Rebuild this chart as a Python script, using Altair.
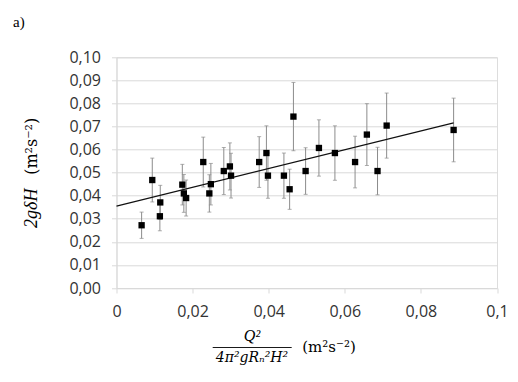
import altair as alt
import pandas as pd

# data
q_vals = [0.0066, 0.0094, 0.0115, 0.0114, 0.0173, 0.0177, 0.0183, 0.0228, 0.0244,
          0.0248, 0.0282, 0.0298, 0.0301, 0.0375, 0.0394, 0.0398, 0.0440, 0.0455,
          0.0465, 0.0497, 0.0532, 0.0574, 0.0627, 0.0658, 0.0686, 0.0710, 0.0886]
h_vals = [0.0272, 0.0468, 0.0371, 0.0311, 0.0448, 0.0410, 0.0390, 0.0546, 0.0410,
          0.0450, 0.0507, 0.0527, 0.0487, 0.0546, 0.0585, 0.0487, 0.0487, 0.0428,
          0.0743, 0.0507, 0.0607, 0.0585, 0.0546, 0.0665, 0.0507, 0.0704, 0.0685]
err_vals = [0.0057, 0.0095, 0.0074, 0.0063, 0.0088, 0.0082, 0.0078, 0.0108, 0.0081,
            0.0090, 0.0102, 0.0102, 0.0097, 0.0110, 0.0118, 0.0098, 0.0098, 0.0087,
            0.0148, 0.0101, 0.0122, 0.0118, 0.0112, 0.0134, 0.0103, 0.0141, 0.0138]
trend_x = [0.0, 0.0886]
trend_intercept = 0.0355
trend_slope = 0.407
x_ticks = [0, 0.02, 0.04, 0.06, 0.08, 0.1]
y_ticks = [0, 0.01, 0.02, 0.03, 0.04, 0.05, 0.06, 0.07, 0.08, 0.09, 0.1]

df = pd.DataFrame({"x": q_vals, "y": h_vals, "e": err_vals})
df["lo"] = df["y"] - df["e"]
df["hi"] = df["y"] + df["e"]
tdf = pd.DataFrame({"x": trend_x})
tdf["y"] = trend_intercept + trend_slope * tdf["x"]

W, H = 380.5, 230.7
GRID = "#d9d9d9"
LBL = "#333333"

xs = alt.Scale(domain=[0, 0.1], nice=False)
ys = alt.Scale(domain=[0, 0.1], nice=False)

xax = alt.Axis(values=x_ticks, grid=False, title=None,
               labelExpr="replace(format(datum.value, '.2~f'), '.', ',')",
               labelFont="Open Sans", labelFontSize=16, labelColor=LBL,
               labelPadding=10, tickSize=5, tickColor=GRID, domainColor=GRID,
               labelFlush=False, labelOverlap=False)
yax = alt.Axis(values=y_ticks, grid=True, gridColor=GRID, title=None,
               labelExpr="replace(format(datum.value, '.2f'), '.', ',')",
               labelFont="Open Sans", labelFontSize=16, labelColor=LBL,
               labelPadding=11, tickSize=5, tickColor=GRID, domainColor=GRID,
               labelOverlap=False, labelFlush=False)

def X(f):
    return alt.X(f, type="quantitative", scale=xs, axis=xax)

def Y(f):
    return alt.Y(f, type="quantitative", scale=ys, axis=yax)

base = alt.Chart(df)
bars = base.mark_rule(color="#8c8c8c", strokeWidth=1).encode(
    x=X("x"), y=Y("lo"), y2="hi:Q")
cap_lo = base.mark_tick(color="#8c8c8c", orient="horizontal", size=4, thickness=1).encode(
    x=X("x"), y=Y("lo"))
cap_hi = base.mark_tick(color="#8c8c8c", orient="horizontal", size=4, thickness=1).encode(
    x=X("x"), y=Y("hi"))
trend = alt.Chart(tdf).mark_line(color="#111111", strokeWidth=1.2).encode(x=X("x"), y=Y("y"))
pts = base.mark_square(color="black", size=40, opacity=1).encode(x=X("x"), y=Y("y"))

def txt(s, x, y, size=15, style="normal", angle=0, align="center", font="DejaVu Serif"):
    return alt.Chart(pd.DataFrame({"t": [s]})).mark_text(
        font=font, fontSize=size, fontStyle=style, angle=angle, align=align,
        baseline="middle", color="black").encode(
        x=alt.value(x), y=alt.value(y), text="t:N")

label_a = txt("a)", -103.5, -35.3, size=15, align="left", font="Liberation Serif")
ytitle1 = txt("2gδH", -84.5, 151, size=18, style="italic", angle=270, font="Liberation Serif")
ytitle2 = txt("(m²s⁻²)", -84.5, 89, size=16, angle=270)
num = txt("Q²", 135.5, 279, size=16, style="italic", font="Liberation Serif")
frac_bar = alt.Chart(pd.DataFrame({"a": [0]})).mark_rule(color="black", strokeWidth=0.9).encode(
    x=alt.value(96.2), x2=alt.value(175.2), y=alt.value(290.2))
den = txt("4π²gRₙ²H²", 135.5, 301, size=14, style="italic")
unit = txt("(m²s⁻²)", 212.5, 290, size=15)

chart = alt.layer(bars, cap_lo, cap_hi, trend, pts, label_a, ytitle1, ytitle2,
                  num, frac_bar, den, unit).properties(
    width=W, height=H,
    autosize=alt.AutoSizeParams(type="none"),
    padding={"left": 108.5, "top": 49.3, "right": 13, "bottom": 85},
).configure_view(stroke=None).configure(background="white")

chart.save("out.html", embed_options={"renderer": "svg", "actions": False})
